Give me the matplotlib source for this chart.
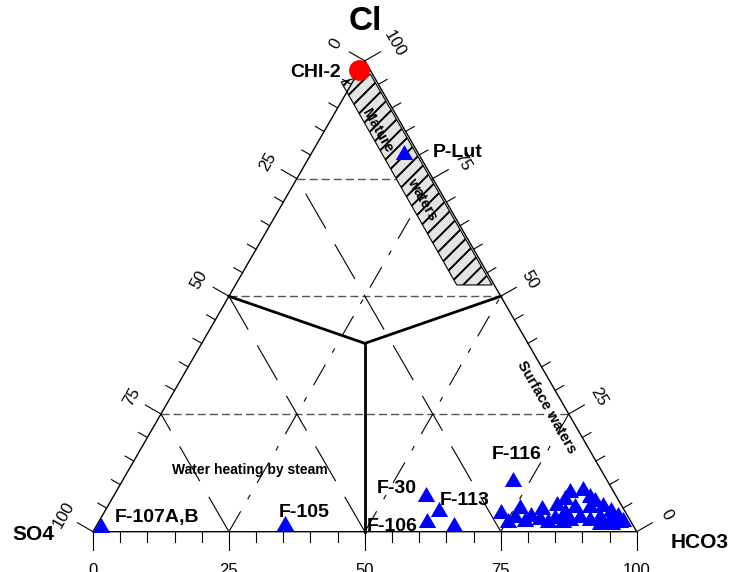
import numpy as np
import matplotlib
matplotlib.use('Agg')
import matplotlib.pyplot as plt
from matplotlib.patches import Polygon

plt.rcParams['font.family'] = ['Liberation Sans', 'DejaVu Sans']
plt.rcParams['lines.scale_dashes'] = False

S3 = np.sqrt(3) / 2
PX = 5.437  # pixels per percent unit

# axis ticks (percent)
minor_ticks = np.arange(0, 101, 5)
major_ticks = [0, 25, 50, 75, 100]
grid_levels = [25, 50, 75]

# named samples: Cl, SO4, HCO3 (%)
names = ['P-Lut', 'F-107A,B', 'F-105', 'F-30', 'F-113', 'F-106', 'F-116']
named_cl = [80.7, 1.4, 1.8, 8.1, 4.8, 2.5, 11.2]
named_so4 = [2.4, 97.8, 63.7, 34.7, 33.9, 37.3, 17.2]
named_hco3 = [16.9, 0.8, 34.5, 57.2, 61.3, 60.2, 71.6]
# label offsets in pixels (dx, dy to baseline)
label_dx = [28, 14, -6.5, -49.3, 0.5, -60.8, -21.3]
label_dy = [-5.2, 3.3, 6.3, 0.8, 4.0, -10.7, 19.7]

# CHI-2 (geothermal well)
chi2_cl, chi2_so4, chi2_hco3 = 98.0, 2.0, 0.0

# unnamed springs / wells
other_cl = [1.7, 4.5, 2.5, 5.5, 3.8, 5.2, 6.1, 8.9, 9.3, 6.9, 5.9, 4.8, 3.8, 2.7,
            4.6, 5.6, 5.6, 3.5, 2.9, 3.5, 2.9, 2.5, 2.9, 3.4, 3.1, 2.7, 2.0, 2.0,
            2.5, 2.5, 3.5, 7.3, 7.8]
other_so4 = [32.8, 22.8, 22.5, 18.8, 17.6, 14.8, 11.7, 7.9, 5.3, 4.3, 3.3, 2.4, 1.6, 1.1,
             10.9, 8.6, 5.8, 8.7, 7.2, 5.0, 3.5, 1.8, 10.9, 13.4, 16.3, 19.2, 5.8, 3.6,
             12.3, 15.1, 20.6, 9.6, 4.7]
other_hco3 = [65.5, 72.7, 75.0, 75.7, 78.6, 80.0, 82.2, 83.2, 85.4, 88.8, 90.8, 92.8, 94.6, 96.2,
              84.5, 85.8, 88.6, 87.8, 89.9, 91.5, 93.6, 95.7, 86.2, 83.2, 80.6, 78.1, 92.2, 94.4,
              85.2, 82.4, 75.9, 83.1, 87.5]

# field boundaries
mature_cl = [52.4, 52.4, 97.2, 95.5]
mature_so4 = [6.9, 0.4, 0.4, 6.6]
mature_hco3 = [40.7, 47.2, 2.4, -2.1]
junction = (40, 30, 30)  # Cl, SO4, HCO3


def xy(cl, hco3):
    cl = np.asarray(cl, float)
    hco3 = np.asarray(hco3, float)
    return hco3 + cl / 2, cl * S3


fig = plt.figure(figsize=(7.32, 5.72), dpi=100)
ax = fig.add_axes([0, 0, 1, 1])
ax.set_xlim(-93 / PX, 639 / PX)
ax.set_ylim(-40.3 / PX, 531.7 / PX)
ax.axis('off')

# outer triangle
tx, ty = xy([0, 0, 100, 0], [0, 100, 0, 0])
ax.plot(tx, ty, color='black', lw=1.0, zorder=3)

# grid: constant Cl (short dash), constant SO4 (long dash), constant HCO3 (dash-dot)
for c in grid_levels:
    gx, gy = xy([c, c], [0, 100 - c])
    ax.plot(gx, gy, color='#555555', lw=1.0, dashes=(5.8, 2.9), zorder=1)
    gx, gy = xy([0, c], [c, 0])
    ax.plot(gx, gy, color='black', lw=0.8, dashes=(29, 13), zorder=1)
    gx, gy = xy([0, 100 - c], [c, c])
    ax.plot(gx, gy, color='black', lw=0.8, dashes=(17, 10, 3.6, 10), zorder=1)

# ticks and tick labels
edges = {
    'bottom': (lambda v: xy(0, v), (0.0, -1.0)),
    'left': (lambda v: xy(100 - v, 0), (-S3, 0.5)),
    'right': (lambda v: xy(v, 100 - v), (S3, 0.5)),
}
for name, (pos, (nx, ny)) in edges.items():
    for v in minor_ticks:
        L = (18 if v in major_ticks else 10) / PX
        px0, py0 = pos(v)
        ax.plot([px0, px0 + nx * L], [py0, py0 + ny * L], color='black', lw=0.8, zorder=3)
    for v in major_ticks:
        px0, py0 = pos(v)
        if name == 'bottom':
            ax.text(px0, py0 - 31 / PX, str(v), ha='center', va='top', fontsize=12)
        else:
            d = 34 / PX
            rot = 60 if name == 'left' else -60
            ax.text(px0 + nx * d, py0 + ny * d, str(v), ha='center', va='center',
                    rotation=rot, fontsize=12)

# field boundary lines
jx, jy = xy(junction[0], junction[2])
for cl, hc in [(50, 0), (50, 50)]:
    bx, by = xy(cl, hc)
    ax.plot([bx, jx], [by, jy], color='black', lw=2.0, zorder=3)
bx, by = xy(0, 50)
ax.plot([jx, bx], [jy, by], color='black', lw=2.0, zorder=3)

# mature waters band, hatched by hand for a finer spacing
mx, my = xy(mature_cl, mature_hco3)
band = Polygon(np.column_stack([mx, my]), closed=True, facecolor='#e4e4e4',
               edgecolor='black', lw=0.8, zorder=2)
ax.add_patch(band)
step = 14.5 / PX
for b in np.arange(my.min() - mx.max(), my.max() - mx.min(), step):
    hx = np.array([mx.min(), mx.max()])
    hl, = ax.plot(hx, hx + b, color='black', lw=1.4, zorder=2.1)
    hl.set_clip_path(band)

# samples
tri = [(-1, -0.866), (1, -0.866), (0, 0.866)]
ox, oy = xy(other_cl, other_hco3)
ax.plot(ox, oy, ls='none', marker=tri, ms=12.5, mew=0, color='#0000ff', zorder=4)
nx_, ny_ = xy(named_cl, named_hco3)
ax.plot(nx_, ny_, ls='none', marker=tri, ms=12.5, mew=0, color='#0000ff', zorder=4)
cx, cy = xy(chi2_cl, chi2_hco3)
ax.plot([cx], [cy], ls='none', marker='o', ms=15, mew=0, color='#ff0000', zorder=4)

for n, x0, y0, dx, dy in zip(names, nx_, ny_, label_dx, label_dy):
    ax.annotate(n, (x0, y0), xytext=(dx, dy), textcoords='offset pixels',
                ha='left', va='baseline', fontsize=14, fontweight='bold', zorder=5)
ax.annotate('CHI-2', (cx, cy), xytext=(-18.3, -6.7), textcoords='offset pixels',
            ha='right', va='baseline', fontsize=14, fontweight='bold', zorder=5)

# vertex names
ax.text(50, 100 * S3 + 39 / PX, 'Cl', ha='center', va='center', fontsize=24, fontweight='bold')
ax.text(-60 / PX, -3.3 / PX, 'SO4', ha='center', va='center', fontsize=15, fontweight='bold')
ax.text(100 + 63 / PX, -10.8 / PX, 'HCO3', ha='center', va='center', fontsize=15, fontweight='bold')

# field names
ax.text(157 / PX, 61.7 / PX, 'Water heating by steam', ha='center', va='center',
        fontsize=10, fontweight='bold')
ax.text(454 / PX, 124.7 / PX, 'Surface waters', ha='center', va='center', rotation=-60,
        fontsize=10.5, fontweight='bold')
ax.text(284 / PX, 400.7 / PX, 'Mature', ha='center', va='center', rotation=-60,
        fontsize=10.5, fontweight='bold', zorder=3)
ax.text(329 / PX, 332.7 / PX, 'waters', ha='center', va='center', rotation=-60,
        fontsize=10.5, fontweight='bold', zorder=3)

fig.savefig('out.png', dpi=100)
